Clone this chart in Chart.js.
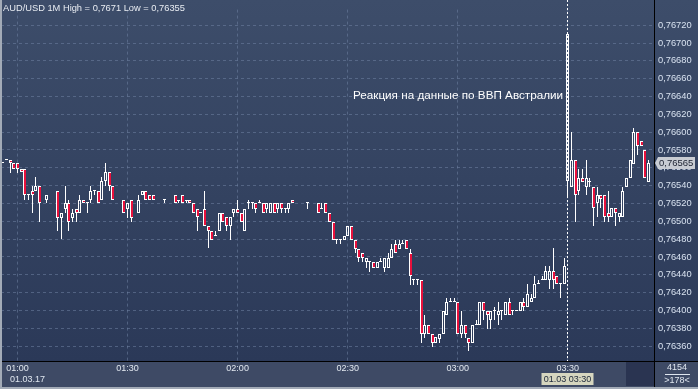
<!DOCTYPE html>
<html><head><meta charset="utf-8">
<script src="https://cdn.jsdelivr.net/npm/chart.js@4.4.1/dist/chart.umd.min.js"></script>
<style>html,body{margin:0;padding:0;background:#2f3d5b;overflow:hidden}canvas{display:block}</style>
</head><body>
<canvas id="c" width="698" height="389"></canvas>
<script>
// categories: 1-minute bars from 00:56 to 03:53
const timeLabels = [];
for (let k = 0; k < 178; k++) { const t = 56 + k; timeLabels.push(String(Math.floor(t/60)).padStart(2,'0') + ':' + String(t%60).padStart(2,'0')); }

const openP = [
0.76565,0.76569,0.76569,0.76565,0.76565,0.76559,0.76559,0.76529,0.76534,0.76534,
0.76540,null,0.76524,null,null,0.76534,0.76504,0.76514,0.76520,0.76504,
0.76514,0.76509,0.76524,0.76520,0.76524,0.76534,0.76534,0.76524,0.76545,0.76555,
0.76540,null,null,0.76524,0.76514,0.76524,null,0.76509,0.76530,0.76534,
0.76530,0.76530,null,null,0.76524,null,null,0.76530,0.76523,0.76529,
0.76523,0.76524,0.76520,0.76514,0.76509,0.76514,0.76495,0.76489,0.76483,0.76489,
0.76509,0.76505,0.76495,0.76509,0.76514,0.76509,0.76489,0.76520,0.76520,0.76520,
0.76520,0.76520,0.76514,0.76509,0.76520,0.76514,0.76520,0.76514,0.76514,0.76524,
null,null,null,0.76520,null,null,0.76520,0.76514,0.76520,0.76509,
0.76499,0.76479,0.76479,0.76479,0.76484,0.76495,0.76479,0.76469,0.76464,0.76454,
0.76454,0.76454,0.76448,0.76454,0.76448,0.76448,0.76459,0.76474,0.76469,0.76474,
0.76479,0.76464,0.76434,0.76434,0.76434,0.76374,0.76384,0.76374,0.76363,0.76368,
0.76374,0.76395,0.76410,0.76410,0.76410,0.76374,0.76384,0.76369,0.76363,0.76384,
0.76384,0.76410,0.76399,0.76389,0.76399,0.76395,0.76399,0.76395,0.76410,0.76399,
0.76399,0.76399,0.76410,0.76404,0.76410,0.76414,0.76430,0.76434,0.76434,0.76434,
0.76444,0.76439,0.76430,0.76430,0.76545,0.76539,0.76569,0.76534,0.76549,0.76539,
0.76544,0.76539,0.76520,0.76529,0.76529,0.76509,0.76505,0.76515,0.76505,0.76505,
0.76539,0.76549,0.76564,0.76600,0.76590,0.76580,0.76544,null];
const highP = [
0.76565,0.76569,0.76569,0.76565,0.76565,0.76559,0.76559,0.76529,0.76540,0.76550,
0.76540,null,0.76530,null,null,0.76534,0.76509,0.76540,0.76524,0.76514,
0.76514,0.76530,0.76524,0.76520,0.76540,0.76534,0.76534,0.76550,0.76565,0.76555,
0.76540,null,null,0.76524,0.76520,0.76524,null,0.76530,0.76534,0.76534,
0.76530,0.76530,null,null,0.76524,null,null,0.76530,0.76523,0.76529,
0.76523,0.76524,0.76520,0.76514,0.76509,0.76534,0.76495,0.76489,0.76489,0.76509,
0.76509,0.76505,0.76505,0.76514,0.76524,0.76509,0.76514,0.76524,0.76520,0.76520,
0.76524,0.76520,0.76520,0.76520,0.76520,0.76520,0.76520,0.76514,0.76520,0.76524,
null,null,null,0.76520,null,null,0.76520,0.76520,0.76520,0.76509,
0.76499,0.76479,0.76479,0.76484,0.76495,0.76495,0.76479,0.76469,0.76464,0.76459,
0.76454,0.76454,0.76454,0.76459,0.76459,0.76464,0.76474,0.76479,0.76479,0.76479,
0.76479,0.76469,0.76434,0.76434,0.76434,0.76395,0.76384,0.76374,0.76370,0.76374,
0.76399,0.76414,0.76414,0.76414,0.76410,0.76399,0.76384,0.76369,0.76384,0.76389,
0.76410,0.76410,0.76399,0.76399,0.76404,0.76410,0.76399,0.76410,0.76414,0.76399,
0.76399,0.76410,0.76414,0.76430,0.76419,0.76439,0.76434,0.76439,0.76450,0.76450,
0.76470,0.76439,0.76430,0.76459,0.76710,0.76600,0.76569,0.76559,0.76559,0.76569,
0.76549,0.76539,0.76539,0.76529,0.76529,0.76534,0.76515,0.76515,0.76509,0.76539,
0.76549,0.76569,0.76605,0.76600,0.76590,0.76580,0.76569,null];
const lowP = [
0.76565,0.76569,0.76554,0.76559,0.76554,0.76555,0.76524,0.76524,0.76509,0.76534,
0.76499,null,0.76520,null,null,0.76489,0.76480,0.76509,0.76489,0.76499,
0.76499,0.76509,0.76520,0.76509,0.76520,0.76529,0.76520,0.76524,0.76540,0.76534,
0.76524,null,null,0.76509,0.76504,0.76499,null,0.76509,0.76530,0.76524,
0.76524,0.76524,null,null,0.76520,null,null,0.76520,0.76520,0.76520,
0.76520,0.76520,0.76509,0.76489,0.76509,0.76495,0.76470,0.76479,0.76483,0.76489,
0.76499,0.76489,0.76479,0.76505,0.76509,0.76499,0.76489,0.76514,0.76514,0.76509,
0.76520,0.76509,0.76509,0.76509,0.76509,0.76509,0.76509,0.76509,0.76509,0.76520,
null,null,null,0.76514,null,null,0.76509,0.76514,0.76509,0.76499,
0.76479,0.76474,0.76474,0.76479,0.76484,0.76479,0.76464,0.76454,0.76454,0.76448,
0.76443,0.76448,0.76448,0.76454,0.76443,0.76448,0.76459,0.76464,0.76469,0.76474,
0.76469,0.76429,0.76429,0.76429,0.76363,0.76369,0.76374,0.76359,0.76363,0.76363,
0.76374,0.76395,0.76410,0.76410,0.76374,0.76369,0.76369,0.76355,0.76363,0.76384,
0.76384,0.76389,0.76379,0.76379,0.76389,0.76384,0.76389,0.76395,0.76395,0.76395,
0.76399,0.76399,0.76399,0.76404,0.76410,0.76414,0.76430,0.76434,0.76434,0.76424,
0.76424,0.76430,0.76414,0.76430,0.76527,0.76539,0.76499,0.76529,0.76544,0.76529,
0.76539,0.76495,0.76505,0.76515,0.76499,0.76499,0.76505,0.76495,0.76499,0.76505,
0.76539,0.76549,0.76564,0.76574,0.76585,0.76549,0.76544,null];
const closeP = [
0.76565,0.76569,0.76565,0.76559,0.76559,0.76555,0.76529,0.76529,0.76529,0.76540,
0.76520,null,0.76530,null,null,0.76504,0.76509,0.76520,0.76499,0.76509,
0.76509,0.76524,0.76520,0.76520,0.76534,0.76534,0.76520,0.76545,0.76555,0.76540,
0.76524,null,null,0.76509,0.76520,0.76504,null,0.76524,0.76534,0.76524,
0.76524,0.76524,null,null,0.76524,null,null,0.76520,0.76523,0.76520,
0.76523,0.76520,0.76509,0.76505,0.76509,0.76495,0.76489,0.76479,0.76483,0.76509,
0.76499,0.76495,0.76505,0.76514,0.76509,0.76499,0.76514,0.76520,0.76520,0.76514,
0.76520,0.76509,0.76520,0.76520,0.76509,0.76520,0.76514,0.76514,0.76520,0.76520,
null,null,null,0.76520,null,null,0.76509,0.76514,0.76509,0.76499,
0.76479,0.76479,0.76479,0.76484,0.76495,0.76479,0.76469,0.76459,0.76459,0.76459,
0.76454,0.76448,0.76454,0.76454,0.76459,0.76459,0.76469,0.76464,0.76474,0.76474,
0.76469,0.76439,0.76434,0.76434,0.76374,0.76384,0.76374,0.76363,0.76370,0.76374,
0.76399,0.76410,0.76410,0.76410,0.76374,0.76384,0.76374,0.76363,0.76384,0.76384,
0.76410,0.76399,0.76395,0.76399,0.76399,0.76399,0.76399,0.76410,0.76395,0.76399,
0.76399,0.76410,0.76404,0.76419,0.76414,0.76430,0.76430,0.76434,0.76444,0.76444,
0.76434,0.76430,0.76430,0.76450,0.76710,0.76569,0.76529,0.76549,0.76544,0.76549,
0.76544,0.76515,0.76529,0.76525,0.76505,0.76505,0.76515,0.76509,0.76509,0.76534,
0.76549,0.76569,0.76600,0.76585,0.76585,0.76549,0.76565,null];

const priceTicks = [0.76360,0.76380,0.76400,0.76420,0.76440,0.76460,0.76480,0.76500,0.76520,0.76540,0.76560,0.76580,0.76600,0.76620,0.76640,0.76660,0.76680,0.76700,0.76720];
const timeTickLabels = ['01:00','01:30','02:00','02:30','03:00','03:30'];
const titleText = 'AUD/USD 1M High = 0,7671 Low = 0,76355';
const noteText = 'Реакция на данные по ВВП Австралии';
const cursorTime = '03:30';
const lastPrice = 0.76565;
const dateText = '01.03.17';
const cursorText = '01.03 03:30';

const FONT = "'Liberation Sans', Arial, sans-serif";
const fmt = v => v.toFixed(5).replace('.', ',');

const isBear = openP.map((o,i) => o != null && closeP[i] < o);
const bodies = openP.map((o,i) => o == null ? null : [Math.min(o, closeP[i]), Math.max(o, closeP[i])]);
const upperWick = openP.map((o,i) => o == null ? null : [Math.max(o, closeP[i]), highP[i]]);
const lowerWick = openP.map((o,i) => o == null ? null : [lowP[i], Math.min(o, closeP[i])]);

// snap the scale-computed bar geometry to whole pixels so candles render crisp
const snap = {
  id: 'snap',
  beforeDatasetsDraw(chart) {
    chart.getSortedVisibleDatasetMetas().forEach(meta => {
      meta.data.forEach(el => {
        if (el.skip || el.x == null || isNaN(el.x)) return;
        el.x = Math.floor(el.x) + 0.5;
        let y = Math.round(el.y), b = Math.round(el.base);
        if (meta.index === 0 && Math.abs(y - b) < 1) b = y + 1;
        el.y = y; el.base = b;
      });
    });
  }
};

const deco = {
  id: 'deco',
  beforeDraw(chart) {
    const ctx = chart.ctx, W = chart.width, H = chart.height, ca = chart.chartArea;
    ctx.save();
    const g = ctx.createLinearGradient(0, 0, 0, ca.bottom);
    g.addColorStop(0, '#3d4d6a'); g.addColorStop(1, '#2b3958');
    ctx.fillStyle = g; ctx.fillRect(0, 0, W, ca.bottom);
    ctx.fillStyle = '#3e4a65'; ctx.fillRect(0, ca.bottom, W, H - ca.bottom);
    ctx.fillStyle = '#2a3451'; ctx.fillRect(626, ca.bottom + 1, 28, 24);
    ctx.restore();
  },
  afterDraw(chart) {
    const ctx = chart.ctx, W = chart.width, H = chart.height, ca = chart.chartArea;
    const xs = chart.scales.x, ys = chart.scales.y;
    ctx.save();
    // cursor line
    const cx = Math.floor(xs.getPixelForValue(timeLabels.indexOf(cursorTime))) + 0.5;
    ctx.strokeStyle = '#ffffff'; ctx.lineWidth = 1; ctx.setLineDash([2, 2]);
    ctx.beginPath(); ctx.moveTo(cx, 0); ctx.lineTo(cx, ca.bottom); ctx.stroke();
    ctx.setLineDash([]);
    // frame lines
    ctx.strokeStyle = '#000000';
    ctx.beginPath(); ctx.moveTo(ca.right + 0.5, 0); ctx.lineTo(ca.right + 0.5, H); ctx.stroke();
    ctx.beginPath(); ctx.moveTo(0, ca.bottom + 0.5); ctx.lineTo(W, ca.bottom + 0.5); ctx.stroke();
    // outer border
    ctx.fillStyle = '#a3abb7';
    ctx.fillRect(0, 0, 2, H); ctx.fillRect(0, H - 2, W, 2);
    // title
    ctx.font = '9.3px ' + FONT; ctx.textBaseline = 'middle'; ctx.textAlign = 'left';
    ctx.fillStyle = '#e8ecf2'; ctx.fillText(titleText, 3, 8);
    // annotation
    ctx.font = '11.7px ' + FONT; ctx.fillStyle = '#ffffff';
    ctx.fillText(noteText, 353, 96);
    // date under first time label
    ctx.font = '9px ' + FONT; ctx.fillStyle = '#dfe6ef';
    ctx.fillText(dateText, 10, 380);
    // cursor time box
    ctx.fillStyle = '#d6d6bf'; ctx.fillRect(cx - 26, 373, 52, 12);
    ctx.fillStyle = '#1b2638'; ctx.textAlign = 'center';
    ctx.fillText(cursorText, cx, 379.5);
    // last price label
    const py = Math.round(ys.getPixelForValue(lastPrice));
    ctx.fillStyle = '#c8ccd3';
    ctx.beginPath();
    ctx.moveTo(ca.right + 1, py); ctx.lineTo(ca.right + 4, py - 6); ctx.lineTo(W - 3, py - 6);
    ctx.lineTo(W - 3, py + 6); ctx.lineTo(ca.right + 4, py + 6); ctx.closePath(); ctx.fill();
    ctx.fillStyle = '#1c2231'; ctx.textAlign = 'left'; ctx.font = '9.5px ' + FONT;
    ctx.fillText(fmt(lastPrice), ca.right + 5, py + 0.5);
    // bottom-right counters
    ctx.fillStyle = '#dfe6ef'; ctx.textAlign = 'center'; ctx.font = '9px ' + FONT;
    ctx.fillText('4154', 677, 367.5);
    ctx.fillText('>178<', 677, 381);
    ctx.fillRect(665, 374, 25, 1);
    ctx.restore();
  }
};

const gridColor = 'rgba(112,130,162,0.55)';

new Chart(document.getElementById('c'), {
  type: 'bar',
  data: {
    labels: timeLabels,
    datasets: [
      { label: 'body', data: bodies,
        backgroundColor: c => isBear[c.dataIndex] ? '#e8103c' : 'rgba(0,0,0,0)',
        borderWidth: c => isBear[c.dataIndex] ? { left: 1, top: 1, bottom: 1, right: 0 } : 1,
        borderColor: '#ffffff',
        borderSkipped: false, barThickness: 3, minBarLength: 1, grouped: false, inflateAmount: 0, order: 0 },
      { label: 'upper', data: upperWick, backgroundColor: '#ffffff', borderWidth: 0, barThickness: 1,
        grouped: false, inflateAmount: 0, order: 1 },
      { label: 'lower', data: lowerWick, backgroundColor: '#ffffff', borderWidth: 0, barThickness: 1,
        grouped: false, inflateAmount: 0, order: 1 }
    ]
  },
  options: {
    responsive: false, animation: false, devicePixelRatio: 1,
    layout: { padding: { left: 1, top: 0, right: 0, bottom: 0 } },
    plugins: { legend: { display: false }, tooltip: { enabled: false }, title: { display: false } },
    scales: {
      x: {
        type: 'category', offset: true,
        grid: { color: gridColor, offset: false, drawTicks: false, lineWidth: 1 },
        border: { display: false, dash: [3, 3] },
        afterBuildTicks: s => { s.ticks = s.ticks.filter(t => timeTickLabels.includes(timeLabels[t.value])); },
        afterFit: s => { s.height = 28; },
        ticks: { autoSkip: false, maxRotation: 0, padding: 2, color: '#e2e8f0', font: { family: FONT, size: 9 },
          callback: function (v) { return timeLabels[v]; } }
      },
      y: {
        position: 'right', min: 0.763433, max: 0.767375,
        grid: { color: gridColor, drawTicks: false, lineWidth: 1 },
        border: { display: false, dash: [3, 3] },
        afterBuildTicks: s => { s.ticks = priceTicks.map(v => ({ value: v })); },
        afterFit: s => { s.width = 44; },
        ticks: { padding: 4, color: '#d8e2f0', font: { family: FONT, size: 9.3 }, callback: v => fmt(v) }
      }
    }
  },
  plugins: [snap, deco]
});
</script>
</body></html>
